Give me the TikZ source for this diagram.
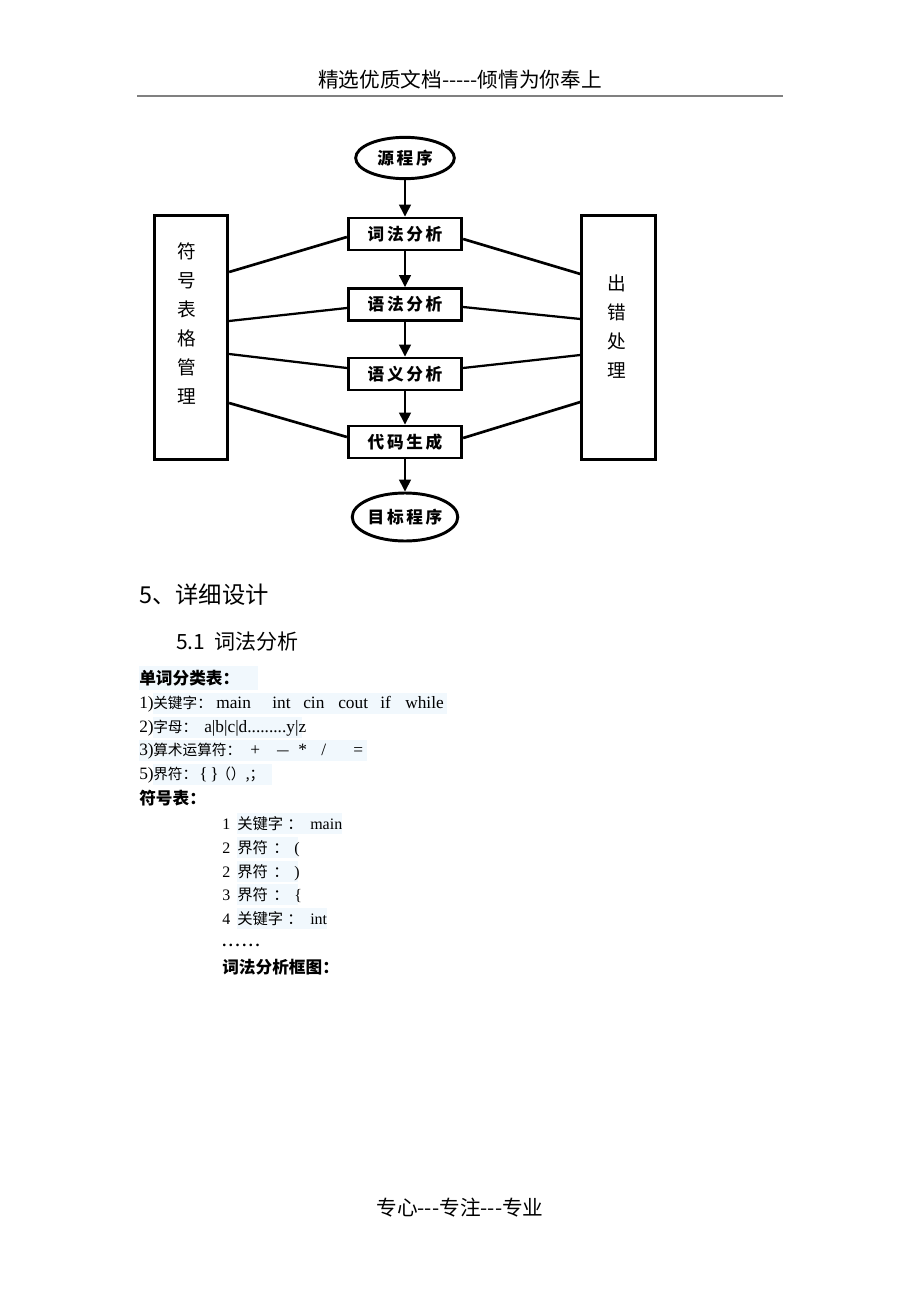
\documentclass[tikz,border=0pt]{standalone}
\usepackage{fontspec}
\setmainfont{Liberation Serif}
\newfontfamily\cjk{Noto Sans CJK SC}
\usetikzlibrary{shapes.geometric,arrows.meta}
\definecolor{hl}{RGB}{241,248,253}
\definecolor{rulegray}{RGB}{128,128,128}
\newcommand\gp{\hspace{2pt}}
\begin{document}
\begin{tikzpicture}[x=0.75pt,y=-0.75pt,
  box/.style={draw,line width=2.2pt,minimum width=85pt,minimum height=24pt,inner sep=0pt,font=\cjk\bfseries\fontsize{12.5}{14}\selectfont},
  ell/.style={draw,ellipse,line width=2.2pt,inner sep=0pt,font=\cjk\bfseries\fontsize{12.5}{14}\selectfont},
  side/.style={draw,line width=2.2pt,minimum width=55pt,minimum height=183pt,inner sep=0pt},
  vtext/.style={align=center,inner sep=0pt,font=\cjk\fontsize{14}{21.75}\selectfont},
  arr/.style={line width=1.1pt,-{Triangle[width=9pt,length=9pt]}},
  link/.style={line width=1.7pt},
  t/.style={anchor=base west,inner sep=0pt},
  zh/.style={t,font=\cjk\fontsize{11}{12}\selectfont},
  la/.style={t,font=\fontsize{13}{15}\selectfont},
  zhb/.style={t,font=\cjk\bfseries\fontsize{12.5}{14}\selectfont},
  zi/.style={t,font=\cjk\fontsize{11.5}{13}\selectfont},
  li/.style={t,font=\fontsize{12}{14}\selectfont},
  hlbox/.style={fill=hl,draw=none}
  ]
\path[use as bounding box, fill=white] (0,0) rectangle (920,1302);

% header / footer
\node[inner sep=0pt,font=\cjk\fontsize{15.5}{18}\selectfont] (head) at (460,80) {精选优质文档-----倾情为你奉上};
\draw[rulegray,line width=0.8pt] (137,96) -- (783,96);
\node[inner sep=0pt,font=\cjk\fontsize{15.5}{18}\selectfont] (foot) at (460,1208) {专心---专注---专业};

% diagram
\node[ell,minimum width=74pt,minimum height=31pt] (src) at (405,158) {源\gp 程\gp 序};
\node[box] (b1) at (405,234) {词\gp 法\gp 分\gp 析};
\node[box] (b2) at (405,304.5) {语\gp 法\gp 分\gp 析};
\node[box] (b3) at (405,374) {语\gp 义\gp 分\gp 析};
\node[box] (b4) at (405,442) {代\gp 码\gp 生\gp 成};
\node[ell,minimum width=71pt,minimum height=36pt] (tgt) at (405,517) {目\gp 标\gp 程\gp 序};
\node[side] (L) at (191,337.5) {};
\node[side] (R) at (618.5,337.5) {};
\node[vtext] (Lt) at (187,323.5) {符\\号\\表\\格\\管\\理};
\node[vtext] (Rt) at (617,326.5) {出\\错\\处\\理};

\draw[arr] (src.south) -- (b1.north);
\draw[arr] (b1.south) -- (b2.north);
\draw[arr] (b2.south) -- (b3.north);
\draw[arr] (b3.south) -- (b4.north);
\draw[arr] (b4.south) -- (tgt.north);

\draw[link,line width=2pt] (L.east |- 0,272) -- (b1.west |- 0,237);
\draw[link] (L.east |- 0,321) -- (b2.west |- 0,308);
\draw[link] (L.east |- 0,354) -- (b3.west |- 0,368);
\draw[link,line width=2pt] (L.east |- 0,403) -- (b4.west |- 0,437);
\draw[link,line width=2pt] (b1.east |- 0,239) -- (R.west |- 0,274);
\draw[link] (b2.east |- 0,307) -- (R.west |- 0,319);
\draw[link] (b3.east |- 0,368) -- (R.west |- 0,355);
\draw[link,line width=2pt] (b4.east |- 0,438) -- (R.west |- 0,402);

% headings
\node[t,font=\cjk\fontsize{17.5}{20}\selectfont] (h5) at (139,603) {5、详细设计};
\node[t,font=\cjk\fontsize{15.75}{18}\selectfont] (h51) at (176,649) {5.1\hspace{7pt}词法分析};

% highlights
\fill[hlbox] (139,666) rectangle (258,690);
\fill[hlbox] (153,693) rectangle (447,714);
\fill[hlbox] (153,717) rectangle (302,738);
\fill[hlbox] (139,740) rectangle (367,761);
\fill[hlbox] (153,764) rectangle (272,785);
\fill[hlbox] (237,813) rectangle (342,834);
\fill[hlbox] (237,837) rectangle (298,858);
\fill[hlbox] (237,861) rectangle (298,882);
\fill[hlbox] (237,884) rectangle (298,905);
\fill[hlbox] (237,908) rectangle (327,929);

% word classes
\node[zhb] (wc) at (139,684) {单词分类表：};
\node[la] (n1) at (139,708) {1)};
\node[zh] (k1) at (153,708) {关键字：};
\node[la] (w1) at (216,708) {main};
\node[la] (w2) at (272,708) {int};
\node[la] (w3) at (303,708) {cin};
\node[la] (w4) at (338,708) {cout};
\node[la] (w5) at (380,708) {if};
\node[la] (w6) at (405,708) {while};

\node[la] (n2) at (139,732) {2)};
\node[zh] (k2) at (153,732) {字母：};
\node[la] (w7) at (204,732) {a|b|c|d.........y|z};

\node[la] (n3) at (139,755) {3)};
\node[zh] (k3) at (153,755) {算术运算符：};
\node[la] (o1) at (250,755) {+};
\node[zh] (o2) at (276,755) {—};
\node[la] (o3) at (298,755) {*};
\node[la] (o4) at (321,755) {/};
\node[la] (o5) at (353,755) {=};

\node[la] (n5) at (139,779) {5)};
\node[zh] (k5) at (153,779) {界符：};
\node[la] (d1) at (199,779) {\{\,\}};
\node[zh] (d2) at (216,779) {（）,；};

% symbol table
\node[zhb] (st) at (139,804) {符号表：};

\node[li] (r1n) at (222,829) {1};
\node[zi] (r1k) at (237,829) {关键字};
\node[zi] (r1c) at (287,829) {：};
\node[li] (r1v) at (310,829) {main};

\node[li] (r2n) at (222,853) {2};
\node[zi] (r2k) at (237,853) {界符};
\node[zi] (r2c) at (273,853) {：};
\node[li] (r2v) at (294,853) {(};

\node[li] (r3n) at (222,877) {2};
\node[zi] (r3k) at (237,877) {界符};
\node[zi] (r3c) at (273,877) {：};
\node[li] (r3v) at (294,877) {)};

\node[li] (r4n) at (222,900) {3};
\node[zi] (r4k) at (237,900) {界符};
\node[zi] (r4c) at (273,900) {：};
\node[li] (r4v) at (294,900) {\{};

\node[li] (r5n) at (222,924) {4};
\node[zi] (r5k) at (237,924) {关键字};
\node[zi] (r5c) at (287,924) {：};
\node[li] (r5v) at (310,924) {int};

\node[li,font=\bfseries\fontsize{12}{14}\selectfont] (dots) at (222,946) {.\,.\,.\,.\,.\,.};
\node[zhb] (fig) at (222,973) {词法分析框图：};
\end{tikzpicture}
\end{document}
